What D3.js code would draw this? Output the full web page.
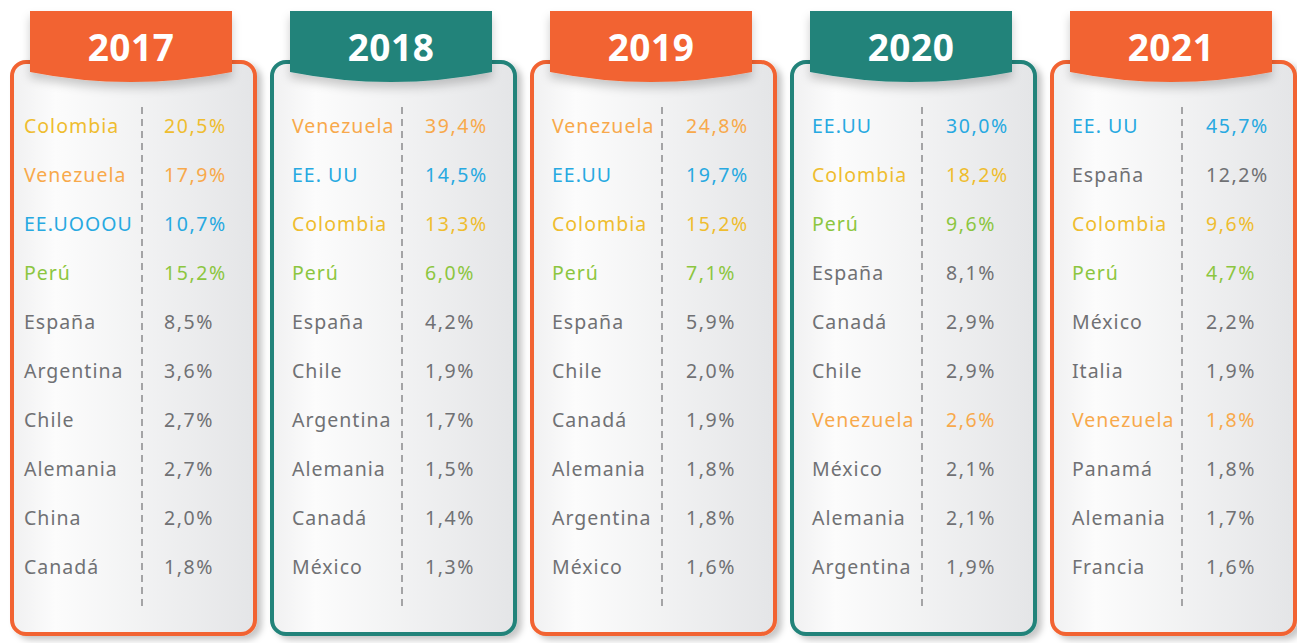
<!DOCTYPE html>
<html>
<head>
<meta charset="utf-8">
<script src="https://cdn.jsdelivr.net/npm/d3@7"></script>
<style>
  body { margin: 0; background: #fff; }
  svg { display: block; }
</style>
</head>
<body>
<svg id="chart" width="1297" height="643"></svg>
<script>
// data, one list per year
var years = ["2017", "2018", "2019", "2020", "2021"];
var headerColors = ["#f26432", "#22837a", "#f26432", "#22837a", "#f26432"];

var countries2017 = ["Colombia", "Venezuela", "EE.UOOOU", "Perú", "España", "Argentina", "Chile", "Alemania", "China", "Canadá"];
var values2017 = ["20,5%", "17,9%", "10,7%", "15,2%", "8,5%", "3,6%", "2,7%", "2,7%", "2,0%", "1,8%"];

var countries2018 = ["Venezuela", "EE. UU", "Colombia", "Perú", "España", "Chile", "Argentina", "Alemania", "Canadá", "México"];
var values2018 = ["39,4%", "14,5%", "13,3%", "6,0%", "4,2%", "1,9%", "1,7%", "1,5%", "1,4%", "1,3%"];

var countries2019 = ["Venezuela", "EE.UU", "Colombia", "Perú", "España", "Chile", "Canadá", "Alemania", "Argentina", "México"];
var values2019 = ["24,8%", "19,7%", "15,2%", "7,1%", "5,9%", "2,0%", "1,9%", "1,8%", "1,8%", "1,6%"];

var countries2020 = ["EE.UU", "Colombia", "Perú", "España", "Canadá", "Chile", "Venezuela", "México", "Alemania", "Argentina"];
var values2020 = ["30,0%", "18,2%", "9,6%", "8,1%", "2,9%", "2,9%", "2,6%", "2,1%", "2,1%", "1,9%"];

var countries2021 = ["EE. UU", "España", "Colombia", "Perú", "México", "Italia", "Venezuela", "Panamá", "Alemania", "Francia"];
var values2021 = ["45,7%", "12,2%", "9,6%", "4,7%", "2,2%", "1,9%", "1,8%", "1,8%", "1,7%", "1,6%"];

var countries = [countries2017, countries2018, countries2019, countries2020, countries2021];
var values = [values2017, values2018, values2019, values2020, values2021];

function textColor(name) {
  if (name.indexOf("EE.") === 0) return "#27a9e1";
  if (name === "Colombia") return "#efbd2f";
  if (name === "Venezuela") return "#f8a94b";
  if (name === "Perú") return "#8cc63f";
  return "#707174";
}

var svg = d3.select("#chart");
var defs = svg.append("defs");

var grad = defs.append("linearGradient").attr("id", "cardFill")
  .attr("x1", "0%").attr("x2", "100%").attr("y1", "0%").attr("y2", "0%");
grad.append("stop").attr("offset", "0%").attr("stop-color", "#f0f0f1");
grad.append("stop").attr("offset", "18%").attr("stop-color", "#fcfcfc");
grad.append("stop").attr("offset", "100%").attr("stop-color", "#e4e5e7");

var shadow = defs.append("filter").attr("id", "shadow")
  .attr("x", "-10%").attr("y", "-10%").attr("width", "130%").attr("height", "130%");
shadow.append("feDropShadow").attr("dx", 5).attr("dy", 4).attr("stdDeviation", 3)
  .attr("flood-color", "#000").attr("flood-opacity", 0.22);

var tabShadow = defs.append("filter").attr("id", "tabShadow")
  .attr("x", "-10%").attr("y", "-20%").attr("width", "120%").attr("height", "160%");
tabShadow.append("feDropShadow").attr("dx", 0).attr("dy", 6).attr("stdDeviation", 5)
  .attr("flood-color", "#000").attr("flood-opacity", 0.2);

var x = d3.scaleBand().domain(years).range([10, 1297]).paddingInner(0.05).paddingOuter(0);
var w = x.bandwidth();
var y = d3.scalePoint().domain(d3.range(10)).range([126, 567]);

// first card has its names a bit further left
function nameX(i) { return i === 0 ? 14 : 22; }
function valueX(i) { return i === 0 ? 154 : 155 + (i > 1 ? 1 : 0); }

var cards = svg.selectAll("g.card").data(years).join("g")
  .attr("class", "card")
  .attr("transform", function(d) { return "translate(" + x(d) + ",0)"; });

// card body
cards.append("rect")
  .attr("x", 2).attr("y", 62)
  .attr("width", w - 4).attr("height", 572)
  .attr("rx", 14)
  .attr("fill", "url(#cardFill)")
  .attr("stroke", function(d, i) { return headerColors[i]; })
  .attr("stroke-width", 4)
  .attr("filter", "url(#shadow)");

// dashed divider
cards.append("line")
  .attr("x1", 132).attr("x2", 132)
  .attr("y1", 107).attr("y2", 607)
  .attr("stroke", "#8a8b8d")
  .attr("stroke-width", 1.5)
  .attr("stroke-dasharray", "7,5");

// header tab
cards.append("path")
  .attr("d", "M20,11 H222 V72 Q121,92 20,72 Z")
  .attr("fill", function(d, i) { return headerColors[i]; })
  .attr("filter", "url(#tabShadow)");

cards.append("text")
  .attr("x", 121).attr("y", 61)
  .attr("text-anchor", "middle")
  .attr("font-family", "'Open Sans', sans-serif")
  .attr("font-weight", 700)
  .attr("font-size", 37)
  .attr("letter-spacing", 0.5)
  .attr("fill", "#fff")
  .text(function(d) { return d; });

// rows
cards.each(function(d, i) {
  var g = d3.select(this);
  g.selectAll("text.country").data(countries[i]).join("text")
    .attr("class", "country")
    .attr("x", nameX(i))
    .attr("y", function(c, j) { return y(j) + 7; })
    .attr("font-family", "'Noto Sans', sans-serif")
    .attr("font-size", 19.5)
    .attr("letter-spacing", 1)
    .attr("fill", textColor)
    .text(function(c) { return c; });
  g.selectAll("text.value").data(values[i]).join("text")
    .attr("class", "value")
    .attr("x", valueX(i))
    .attr("y", function(v, j) { return y(j) + 7; })
    .attr("font-family", "'Noto Sans', sans-serif")
    .attr("font-size", 19.5)
    .attr("letter-spacing", 1.6)
    .attr("fill", function(v, j) { return textColor(countries[i][j]); })
    .text(function(v) { return v; });
});
</script>
</body>
</html>
